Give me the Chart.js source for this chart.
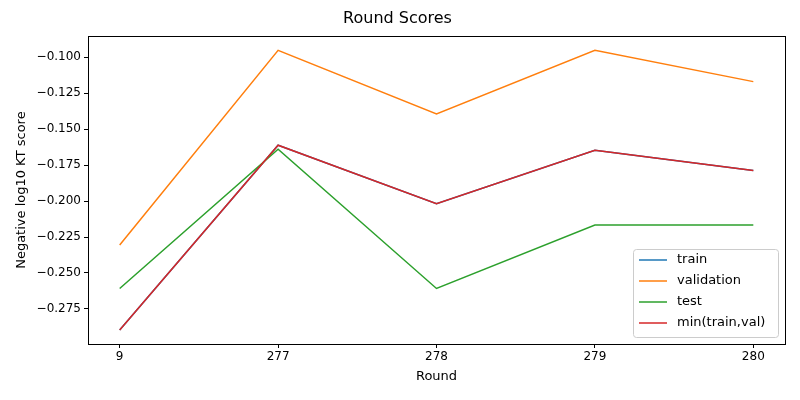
<!DOCTYPE html>
<html><head><script src="https://cdn.jsdelivr.net/npm/chart.js@4"></script>
<style>body{margin:0;background:#fff}#w{width:800px;height:400px}</style></head>
<body><div id="w"><canvas id="c"></canvas></div>
<script>
const rounds = ["9","277","278","279","280"];
const train = [-0.2896,-0.1611,-0.2018,-0.1646,-0.1787];
const validation = [-0.2306,-0.0951,-0.1393,-0.0951,-0.1169];
const test = [-0.2608,-0.1639,-0.2608,-0.2166,-0.2166];
const minTrainVal = [-0.2896,-0.1611,-0.2018,-0.1646,-0.1787];
const names = ["train","validation","test","min(train,val)"];
const colors = ["#1f77b4","#ff7f0e","#2ca02c","#d62728"];
const series = [train, validation, test, minTrainVal];
const F = "'DejaVu Sans'";
const legendPlugin = {id:'lg', afterDraw(ch){
  const c=ch.ctx, a=ch.chartArea;
  c.save(); c.strokeStyle='#000'; c.lineWidth=1; c.strokeRect(Math.round(a.left)+0.5,Math.round(a.top)+0.5,Math.round(a.right-a.left),Math.round(a.bottom-a.top));
  const w=145,h=88; const x=a.right-7-w, y=a.bottom-7-h;
  c.fillStyle='rgba(255,255,255,0.8)'; c.strokeStyle='#ccc'; c.lineWidth=1;
  c.beginPath(); c.roundRect(x+0.5,y+0.5,w,h,3); c.fill(); c.stroke();
  c.font="13px "+F; c.textBaseline='middle';
  names.forEach((n,i)=>{const yy=y+11+i*21; c.strokeStyle=colors[i]; c.lineWidth=1.5;
    c.beginPath(); c.moveTo(x+6,yy); c.lineTo(x+34,yy); c.stroke(); c.fillStyle='#000'; c.fillText(n,x+44,yy);});
  c.restore();}};
const grid={drawOnChartArea:false,drawTicks:true,tickLength:4,color:'#000',tickColor:'#000'};
new Chart(document.getElementById('c'),{type:'line',
 data:{datasets:series.map((s,i)=>({label:names[i],order:3-i,data:s.map((v,j)=>({x:j,y:v})),borderColor:colors[i],borderWidth:1.5,pointRadius:0,tension:0}))},
 options:{responsive:true,maintainAspectRatio:false,animation:false,
  layout:{padding:{left:10,right:15,top:5,bottom:12}},
  plugins:{legend:{display:false},tooltip:{enabled:false},
   title:{display:true,text:'Round Scores',color:'#000',font:{family:F,size:16,weight:'normal'},padding:{top:4,bottom:8}}},
  scales:{
   x:{type:'linear',min:-0.2,max:4.2,grid:grid,border:{color:'#000'},
     afterBuildTicks(s){s.ticks=rounds.map((r,i)=>({value:i}));},
     ticks:{color:'#000',padding:2,font:{family:F,size:12},callback:(v)=>rounds[v]},
     title:{display:true,text:'Round',color:'#000',padding:{top:2},font:{family:F,size:13}}},
   y:{min:-0.2994,max:-0.0853,grid:grid,border:{color:'#000'},
     afterBuildTicks(s){const t=[];for(let v=-0.275;v<=-0.1+1e-9;v+=0.025)t.push({value:+v.toFixed(3)});s.ticks=t;},
     ticks:{color:'#000',padding:3,font:{family:F,size:12},callback:(v)=>v.toFixed(3).replace('-','\u2212')},
     title:{display:true,text:'Negative log10 KT score',color:'#000',font:{family:F,size:13}}}}},
 plugins:[legendPlugin]});
</script></body></html>
